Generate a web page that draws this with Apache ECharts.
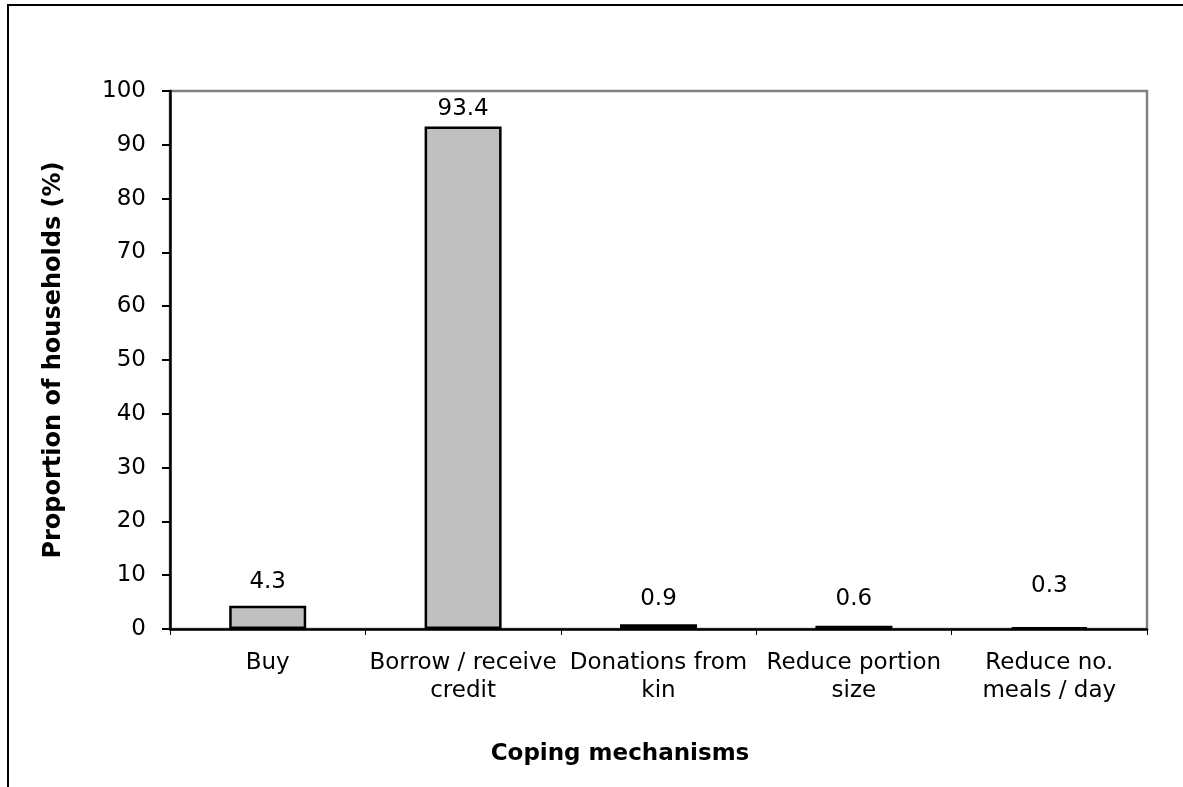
<!DOCTYPE html>
<html>
<head>
<meta charset="utf-8">
<script src="https://cdn.jsdelivr.net/npm/echarts@6/dist/echarts.min.js"></script>
<style>
  html, body { margin: 0; padding: 0; background: #ffffff; }
  #chart { width: 1183px; height: 787px; }
</style>
</head>
<body>
<div id="chart"></div>
<script>
// Coping mechanisms used by households (share of households, %)
const categories = [
  'Buy',
  'Borrow / receive\ncredit',
  'Donations from\nkin',
  'Reduce portion\nsize',
  'Reduce no.\nmeals / day'
];
const shares = [4.3, 93.4, 0.9, 0.6, 0.3];
const yTicks = { min: 0, max: 100, interval: 10 };

// gap between each bar top and its value label (px)
const labelGap = [12, 6, 14, 15, 29];

const FONT = 'DejaVu Sans';

const chart = echarts.init(document.getElementById('chart'), null, { renderer: 'canvas' });

chart.setOption({
  backgroundColor: '#ffffff',
  animation: false,
  grid: {
    left: 170, right: 36, top: 91, bottom: 158,
    show: true, borderColor: '#808080', borderWidth: 2.5, backgroundColor: 'transparent'
  },
  graphic: [
    {
      type: 'rect', z: 100, silent: true,
      shape: { x: 8, y: 5, width: 1300, height: 900 },
      style: { fill: null, stroke: '#000000', lineWidth: 2 }
    },
    {
      type: 'text', z: 100, silent: true,
      x: 620, y: 754,
      style: {
        text: 'Coping mechanisms', fill: '#000000',
        font: 'bold 23px "' + FONT + '"',
        align: 'center', verticalAlign: 'middle'
      }
    }
  ],
  xAxis: {
    type: 'category',
    data: categories,
    boundaryGap: true,
    axisLine: { lineStyle: { color: '#000000', width: 2.5 } },
    axisTick: { show: true, alignWithLabel: false, interval: 0, length: 6, lineStyle: { color: '#000000', width: 1 } },
    axisLabel: {
      interval: 0, margin: 20, color: '#000000',
      fontFamily: FONT, fontSize: 23, lineHeight: 28
    },
    splitLine: { show: false }
  },
  yAxis: {
    type: 'value',
    min: yTicks.min, max: yTicks.max, interval: yTicks.interval,
    name: 'Proportion of households (%)',
    nameLocation: 'middle',
    nameGap: 104,
    nameTextStyle: { fontFamily: FONT, fontSize: 24, fontWeight: 'bold', color: '#000000' },
    axisLine: { show: true, lineStyle: { color: '#000000', width: 2.5 } },
    axisTick: { show: true, length: 8, lineStyle: { color: '#000000', width: 2 } },
    axisLabel: { margin: 24, color: '#000000', fontFamily: FONT, fontSize: 23 },
    splitLine: { show: false }
  },
  series: [{
    type: 'bar',
    barWidth: 77,
    data: shares.map((v, i) => ({ value: v, label: { distance: labelGap[i] } })),
    itemStyle: { color: '#c0c0c0', borderColor: '#000000', borderWidth: 2.5 },
    label: {
      show: true, position: 'top', color: '#000000',
      fontFamily: FONT, fontSize: 23,
      formatter: p => p.value.toFixed(1)
    }
  }]
});
</script>
</body>
</html>
